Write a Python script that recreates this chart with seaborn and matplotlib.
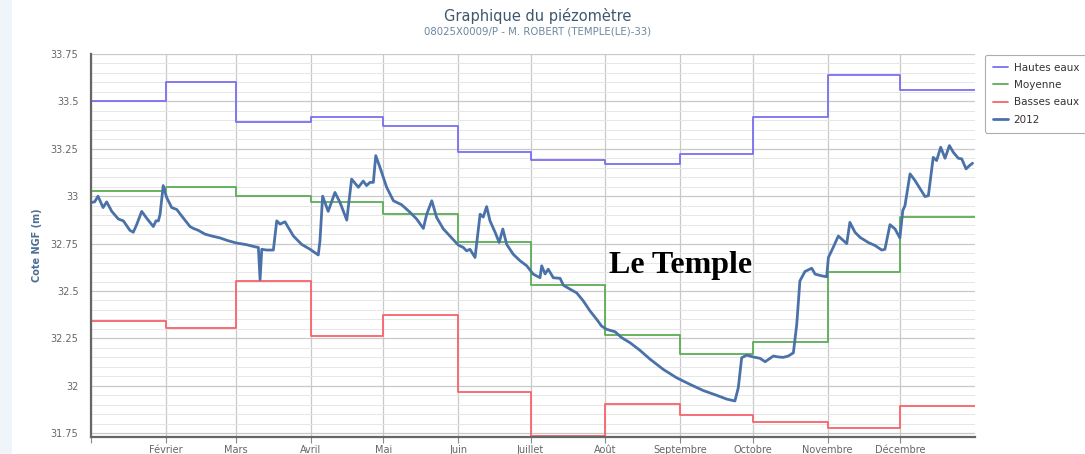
import matplotlib
matplotlib.use("Agg")
import matplotlib.pyplot as plt
from matplotlib.patches import Rectangle
from matplotlib.ticker import MultipleLocator, FixedLocator
import seaborn as sns
import pandas as pd

# ---------------- data ----------------
mois_debut = [0, 31, 60, 91, 121, 152, 182, 213, 244, 274, 305, 335]
mois_labels = ["", "Février", "Mars", "Avril", "Mai", "Juin", "Juillet", "Août",
               "Septembre", "Octobre", "Novembre", "Décembre"]
fin_annee = 366

hautes_eaux = [33.50, 33.60, 33.39, 33.42, 33.37, 33.235, 33.19, 33.17, 33.22, 33.42, 33.64, 33.56]
moyenne = [33.03, 33.05, 33.00, 32.97, 32.905, 32.757, 32.53, 32.27, 32.17, 32.23, 32.60, 32.89]
basses_eaux = [32.344, 32.305, 32.553, 32.265, 32.375, 31.967, 31.735, 31.905, 31.847, 31.807, 31.777, 31.896]

jours_2012 = [0, 1.5, 2.9, 5, 6.5, 8.6, 11.3, 13.4, 16.1, 17.5, 18.9, 21, 23, 25.8, 26.9, 27.9, 28.6,
              29.9, 31.3, 33.4, 35.5, 38.2, 41, 42.4, 44.4, 47.2, 50, 53.4, 56.8, 60.3, 64.5, 67.9,
              69.3, 70, 70.7, 72.7, 75.5, 76.9, 78.3, 80.3, 83.8, 87.2, 90.7, 94.1, 94.8, 95.9, 98.2,
              101, 103.1, 105.9, 107.9, 110.7, 112.7, 114.1, 115.5, 116.9, 117.9, 119.7, 122.4, 125.2,
              128.6, 132.1, 134.8, 137.6, 139, 141.1, 143.1, 145.9, 149.3, 152.1, 154.1, 155.5, 156.9,
              159, 161.1, 162.4, 163.8, 165.2, 167.3, 169, 170.5, 172.1, 174.8, 177.6, 180.4, 183.1,
              185.9, 186.6, 188, 189.3, 191.4, 194.2, 195.6, 198.3, 201.1, 203.8, 206.6, 209.4, 211.4,
              213.5, 217, 219.7, 223.2, 227.3, 231.5, 237, 242.5, 248.1, 253.5, 259, 263.2, 266.6, 268,
              269.4, 271.5, 274.2, 277, 279.1, 282.5, 284.6, 286.6, 288.7, 290.8, 292.2, 293.5, 295.6,
              298.4, 299.8, 302.5, 304.6, 305.3, 307.3, 309.4, 312.9, 314.2, 316.3, 318.4, 321.8, 324.6,
              327.4, 328.7, 330.8, 332.9, 334.9, 336.1, 337, 339.1, 341.2, 345.3, 346.7, 348.7, 350.1,
              351.8, 353.6, 355.4, 357, 359.1, 360.5, 362.3, 363.6, 365]
niveaux_2012 = [32.967, 32.97, 33.0, 32.94, 32.97, 32.92, 32.88, 32.87, 32.82, 32.81, 32.85, 32.92, 32.885,
                32.84, 32.87, 32.87, 32.905, 33.056, 32.994, 32.94, 32.93, 32.885, 32.84, 32.83, 32.82,
                32.80, 32.79, 32.78, 32.765, 32.753, 32.744, 32.733, 32.73, 32.56, 32.72, 32.716, 32.716,
                32.87, 32.853, 32.865, 32.79, 32.746, 32.72, 32.69, 32.765, 33.0, 32.92, 33.02, 32.967,
                32.874, 33.09, 33.047, 33.08, 33.056, 33.073, 33.073, 33.214, 33.15, 33.047, 32.976,
                32.955, 32.915, 32.88, 32.83, 32.905, 32.976, 32.888, 32.827, 32.78, 32.742, 32.73,
                32.712, 32.72, 32.677, 32.905, 32.89, 32.945, 32.87, 32.81, 32.756, 32.827, 32.746,
                32.694, 32.66, 32.633, 32.589, 32.57, 32.633, 32.59, 32.615, 32.57, 32.567, 32.53, 32.51,
                32.49, 32.448, 32.395, 32.35, 32.315, 32.298, 32.285, 32.254, 32.227, 32.187, 32.14,
                32.086, 32.042, 32.007, 31.975, 31.95, 31.93, 31.92, 31.99, 32.148, 32.162, 32.152,
                32.145, 32.127, 32.157, 32.152, 32.15, 32.157, 32.174, 32.324, 32.553, 32.603, 32.62,
                32.589, 32.58, 32.575, 32.677, 32.73, 32.79, 32.75, 32.862, 32.81, 32.783, 32.756, 32.74,
                32.716, 32.72, 32.85, 32.827, 32.78, 32.924, 32.95, 33.118, 33.082, 32.998, 33.003,
                33.205, 33.188, 33.258, 33.2, 33.267, 33.232, 33.2, 33.197, 33.144, 33.16, 33.174]

annotation = "Le Temple"
annotation_jour, annotation_cote = 244, 32.635

# ---------------- figure ----------------
sns.set_theme(style="white")
plt.rcParams['font.family'] = ['DejaVu Sans']

W, H = 1085, 454
fig = plt.figure(figsize=(W / 100, H / 100), dpi=100)
fig.patches.append(Rectangle((0, 0), 12 / W, 1, transform=fig.transFigure,
                             facecolor="#eef6fb", edgecolor="none", zorder=0))

x0, x1, ytop, ybot = 91, 975, 54, 437
ax = fig.add_axes([x0 / W, 1 - ybot / H, (x1 - x0) / W, (ybot - ytop) / H])

step_x = mois_debut + [fin_annee]
def step_df(vals):
    return pd.DataFrame({"jour": step_x, "cote": vals + [vals[-1]]})

sns.lineplot(data=step_df(hautes_eaux), x="jour", y="cote", ax=ax, color="#7a6ff0",
             lw=1.3, drawstyle="steps-post", estimator=None, sort=False, label="Hautes eaux")
sns.lineplot(data=step_df(moyenne), x="jour", y="cote", ax=ax, color="#5cad55",
             lw=1.3, drawstyle="steps-post", estimator=None, sort=False, label="Moyenne")
sns.lineplot(data=step_df(basses_eaux), x="jour", y="cote", ax=ax, color="#f7636a",
             lw=1.3, drawstyle="steps-post", estimator=None, sort=False, label="Basses eaux")
sns.lineplot(x=jours_2012, y=niveaux_2012, ax=ax, color="#4a72a8", lw=2.0,
             estimator=None, sort=False, label="2012")

ax.set_xlim(0, fin_annee)
ax.set_ylim(31.73, 33.75)
ax.xaxis.set_major_locator(FixedLocator(mois_debut))
ax.set_xticklabels(mois_labels)
ax.yaxis.set_minor_locator(MultipleLocator(0.05))
ax.set_yticks([31.75, 32, 32.25, 32.5, 32.75, 33, 33.25, 33.5, 33.75])
ax.set_yticklabels(["31.75", "32", "32.25", "32.5", "32.75", "33", "33.25", "33.5", "33.75"])

ax.grid(which="major", axis="both", color="#c9c9c9", lw=0.9)
ax.grid(which="minor", axis="y", color="#e6e6e6", lw=0.7)
ax.set_axisbelow(True)
for s in ["top", "right"]:
    ax.spines[s].set_visible(False)
for s in ["left", "bottom"]:
    ax.spines[s].set_color("#666666")
    ax.spines[s].set_linewidth(1.6)

ax.tick_params(axis="x", which="major", length=4, width=0.8, color="#888888",
               labelsize=7, labelcolor="#666666", pad=2, bottom=True)
ax.tick_params(axis="y", which="both", length=0, labelsize=7, labelcolor="#666666", pad=9)
ax.set_xlabel("")
ax.set_ylabel("Cote NGF (m)", fontsize=7, color="#4d6f95", fontweight="bold")
ax.yaxis.set_label_coords((42 - x0) / (x1 - x0), 0.5)

leg = ax.legend(loc="upper left", bbox_to_anchor=(985 / W, 1 - 55 / H),
                bbox_transform=fig.transFigure, borderaxespad=0, fontsize=7.5, frameon=True,
                handlelength=1.5, handletextpad=0.5, labelspacing=0.7,
                borderpad=0.75, fancybox=True, labelcolor="#333333")
leg.get_frame().set_edgecolor("#999999")
leg.get_frame().set_linewidth(0.8)

fig.text(538 / W, 1 - 16 / H, "Graphique du piézomètre", ha="center", va="center",
         fontsize=10.5, color="#3e576f")
fig.text(538 / W, 1 - 32 / H, "08025X0009/P - M. ROBERT (TEMPLE(LE)-33)", ha="center",
         va="center", fontsize=7.3, color="#6d869f")

ax.text(annotation_jour, annotation_cote, annotation, ha="center", va="center", fontsize=23,
        fontweight="bold", family=["Liberation Serif", "DejaVu Serif"], color="black")

fig.savefig("out.png", dpi=100)
